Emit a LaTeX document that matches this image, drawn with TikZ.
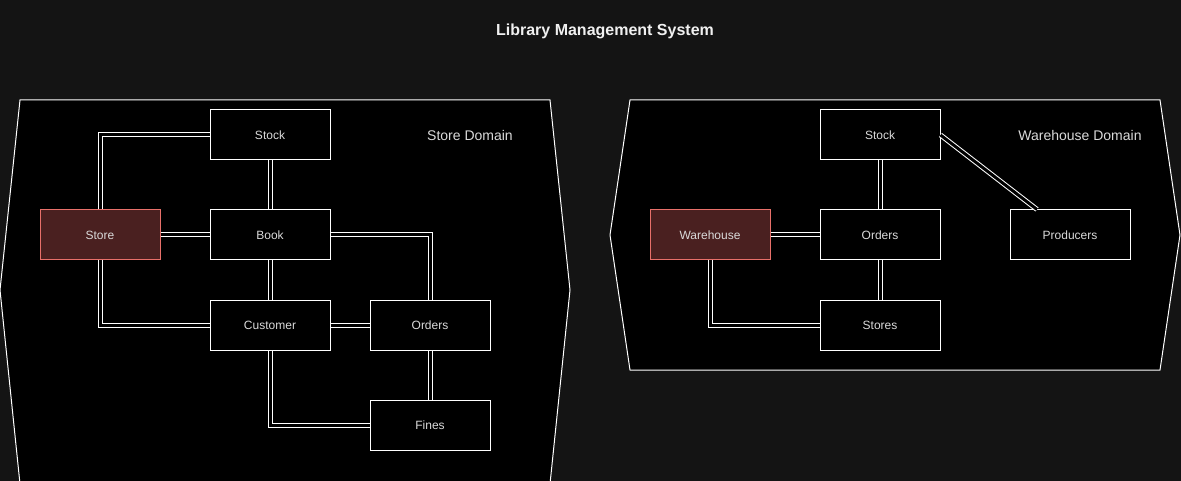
\documentclass[tikz,border=0pt]{standalone}
\usepackage{fontspec}
\setmainfont{Liberation Sans}
\definecolor{bgc}{HTML}{141414}
\definecolor{txt}{HTML}{DADADA}
\definecolor{redfill}{HTML}{4A2020}
\definecolor{redline}{HTML}{E8706A}
\tikzset{
  entity/.style={draw=white, fill=black, line width=1pt, minimum width=120pt, minimum height=50pt, inner sep=0pt, text=txt, font=\fontsize{12}{14}\selectfont},
  rootent/.style={entity, draw=redline, fill=redfill},
  dom/.style={draw=white, fill=black, line width=1pt},
  link/.style={draw=white, double=black, line width=1pt, double distance=3pt},
  domlabel/.style={text=txt, font=\fontsize{14}{16}\selectfont, inner sep=0pt}
}
\begin{document}
\begin{tikzpicture}[x=1pt, y=-1pt]
\useasboundingbox (0,0) rectangle (1181,481);
\fill[bgc] (0,0) rectangle (1181,481);
\node[text=white!94!black, font=\bfseries\fontsize{16}{18}\selectfont] (title) at (605,31.5) {Library Management System};
% domains
\draw[dom] (20,100) -- (550,100) -- (570,290) -- (550.2,482) -- (19.8,482) -- (0,290) -- cycle;
\draw[dom] (630,100) -- (1160,100) -- (1180,235) -- (1160,370) -- (630,370) -- (610,235) -- cycle;
\node[domlabel] (sdl) at (470,135) {Store Domain};
\node[domlabel] (wdl) at (1080,135) {Warehouse Domain};
% store domain
\node[entity] (stock) at (270,135) {Stock};
\node[rootent] (store) at (100,235) {Store};
\node[entity] (book) at (270,235) {Book};
\node[entity] (customer) at (270,325) {Customer};
\node[entity] (orders) at (430,325) {Orders};
\node[entity] (fines) at (430,425) {Fines};
% warehouse domain
\node[entity] (wstock) at (880,135) {Stock};
\node[rootent] (warehouse) at (710,235) {Warehouse};
\node[entity] (worders) at (880,235) {Orders};
\node[entity] (producers) at (1070,235) {Producers};
\node[entity] (stores) at (880,325) {Stores};
% links
\draw[link] (store.north) |- (stock.west);
\draw[link] (stock.south) -- (book.north);
\draw[link] (store.east) -- (book.west);
\draw[link] (store.south) |- (customer.west);
\draw[link] (book.south) -- (customer.north);
\draw[link] (book.east) -| (orders.north);
\draw[link] (customer.east) -- (orders.west);
\draw[link] (orders.south) -- (fines.north);
\draw[link] (customer.south) |- (fines.west);
\draw[link] (wstock.south) -- (worders.north);
\draw[link] (warehouse.east) -- (worders.west);
\draw[link] (worders.south) -- (stores.north);
\draw[link] (warehouse.south) |- (stores.west);
\draw[link] (wstock.east) -- ([xshift=-33pt]producers.north);
\end{tikzpicture}
\end{document}
